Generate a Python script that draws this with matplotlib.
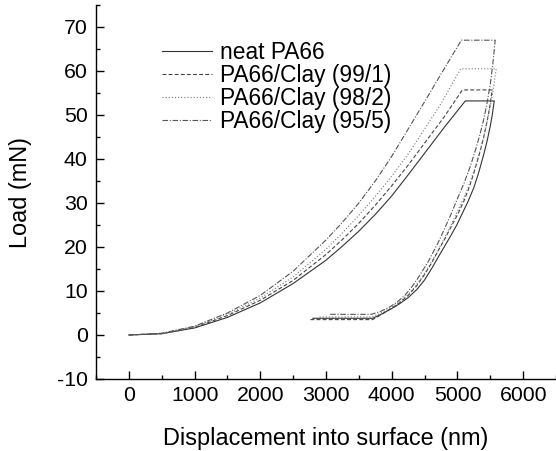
import matplotlib
matplotlib.use("Agg")
import matplotlib.pyplot as plt
from matplotlib.ticker import MultipleLocator

plt.rcParams['font.family'] = ['Liberation Sans', 'DejaVu Sans']
plt.rcParams['axes.unicode_minus'] = False

labels = ["neat PA66", "PA66/Clay (99/1)", "PA66/Clay (98/2)", "PA66/Clay (95/5)"]

# loading segments (displacement nm, load mN)
load_x_neat = [0, 500, 1000, 1500, 2000, 2500, 3000, 3250, 3500, 3750, 4000, 4250, 4500, 4800, 5120]
load_p_neat = [0, 0.3, 1.6, 4.0, 7.3, 11.7, 17.0, 20.2, 23.6, 27.4, 31.6, 36.4, 41.3, 47.2, 53.2]
load_x_991 = [0, 500, 1000, 1500, 2000, 2500, 3000, 3250, 3500, 3750, 4000, 4250, 4500, 4800, 5075]
load_p_991 = [0, 0.3, 1.7, 4.4, 7.9, 12.4, 18.3, 21.7, 25.4, 29.5, 33.9, 38.6, 43.6, 49.6, 55.7]
load_x_982 = [0, 500, 1000, 1500, 2000, 2500, 3000, 3250, 3500, 3750, 4000, 4250, 4500, 4750, 5050]
load_p_982 = [0, 0.35, 1.9, 4.7, 8.4, 13.2, 19.5, 23.2, 27.2, 31.5, 36.1, 41.1, 46.8, 52.6, 60.5]
load_x_955 = [0, 500, 1000, 1500, 2000, 2500, 3000, 3250, 3500, 3750, 4000, 4250, 4500, 4750, 5060]
load_p_955 = [0, 0.4, 2.0, 5.0, 9.0, 14.5, 21.6, 25.6, 30.0, 35.0, 40.6, 46.8, 53.0, 59.3, 67.0]

# hold at maximum load (end displacement)
hold_end_x = [5560, 5530, 5590, 5575]

# unloading segments
unload_x_neat = [5560, 5530, 5500, 5450, 5400, 5325, 5250, 5160, 5076, 4990, 4900, 4810, 4727, 4620, 4500, 4380, 4250, 4120, 4000, 3850, 3712]
unload_p_neat = [53.2, 50.0, 47.5, 44.0, 41.0, 37.0, 33.5, 30.3, 27.7, 25.0, 22.6, 20.3, 18.2, 15.4, 12.5, 10.3, 8.5, 7.1, 6.0, 4.8, 3.8]
unload_x_991 = [5530, 5490, 5450, 5400, 5350, 5250, 5175, 5100, 5000, 4900, 4810, 4720, 4600, 4480, 4370, 4250, 4125, 4000, 3850, 3710]
unload_p_991 = [55.7, 51.8, 48.5, 45.0, 42.0, 36.8, 33.4, 30.5, 27.3, 24.5, 21.9, 19.5, 16.2, 13.3, 11.0, 9.0, 7.4, 6.1, 4.7, 3.5]
unload_x_982 = [5590, 5545, 5500, 5450, 5400, 5300, 5225, 5150, 5050, 4950, 4850, 4750, 4625, 4500, 4375, 4250, 4125, 4000, 3850, 3700]
unload_p_982 = [60.5, 55.8, 52.0, 48.3, 45.0, 39.5, 36.1, 33.0, 29.6, 26.5, 23.4, 20.5, 17.1, 14.0, 11.4, 9.2, 7.6, 6.3, 5.1, 4.1]
unload_x_955 = [5575, 5540, 5500, 5450, 5400, 5345, 5288, 5200, 5100, 5000, 4909, 4800, 4700, 4560, 4424, 4310, 4200, 4075, 3950, 3820, 3690]
unload_p_955 = [67.0, 61.8, 57.0, 52.7, 49.0, 45.7, 42.7, 38.5, 34.5, 31.0, 27.7, 24.0, 20.8, 16.8, 13.5, 11.0, 9.0, 7.4, 6.2, 5.3, 4.7]

# drift hold at low load (end displacement)
drift_end_x = [2800, 2760, 2880, 3050]

loads = [(load_x_neat, load_p_neat), (load_x_991, load_p_991),
         (load_x_982, load_p_982), (load_x_955, load_p_955)]
unloads = [(unload_x_neat, unload_p_neat), (unload_x_991, unload_p_991),
           (unload_x_982, unload_p_982), (unload_x_955, unload_p_955)]

styles = ['-', (0, (3.5, 2)), (0, (1, 1.8)), (0, (5, 1.5, 1, 1.5))]
colors = ['#333333', '#444444', '#777777', '#555555']

fig = plt.figure(figsize=(5.56, 4.51), dpi=100)
ax = fig.add_axes([96/556, (451-379)/451, (556-96)/556, (379-5)/451])

for i in range(4):
    lx, lp = loads[i]
    ux, up = unloads[i]
    xs = list(lx) + [hold_end_x[i]] + list(ux[1:]) + [drift_end_x[i]]
    ps = list(lp) + [lp[-1]] + list(up[1:]) + [up[-1]]
    ax.plot(xs, ps, linestyle=styles[i], color=colors[i], lw=0.8, label=labels[i])

ax.set_xlim(-500, 6500)
ax.set_ylim(-10, 75)
ax.xaxis.set_major_locator(MultipleLocator(1000))
ax.xaxis.set_minor_locator(MultipleLocator(500))
ax.yaxis.set_major_locator(MultipleLocator(10))
ax.yaxis.set_minor_locator(MultipleLocator(5))
ax.set_yticks(range(-10, 71, 10))
ax.spines['top'].set_visible(False)
ax.spines['right'].set_visible(False)
for s in ['left', 'bottom']:
    ax.spines[s].set_linewidth(1.0)
ax.tick_params(which='major', direction='in', length=6, width=1.0, labelsize=15.3)
ax.tick_params(axis='x', which='major', pad=5)
ax.tick_params(axis='y', which='major', pad=6)
ax.tick_params(which='minor', direction='in', length=3, width=1.0)

ax.set_xlabel("Displacement into surface (nm)", fontsize=16.9, labelpad=16)
ax.set_ylabel("Load (mN)", fontsize=16.9, labelpad=18)

leg = ax.legend(loc='upper left', bbox_to_anchor=(0.124, 0.928), frameon=False,
                fontsize=16.4, handlelength=2.2, handletextpad=0.35, labelspacing=0.0,
                borderaxespad=0.0)

fig.savefig("out.png", dpi=100)
